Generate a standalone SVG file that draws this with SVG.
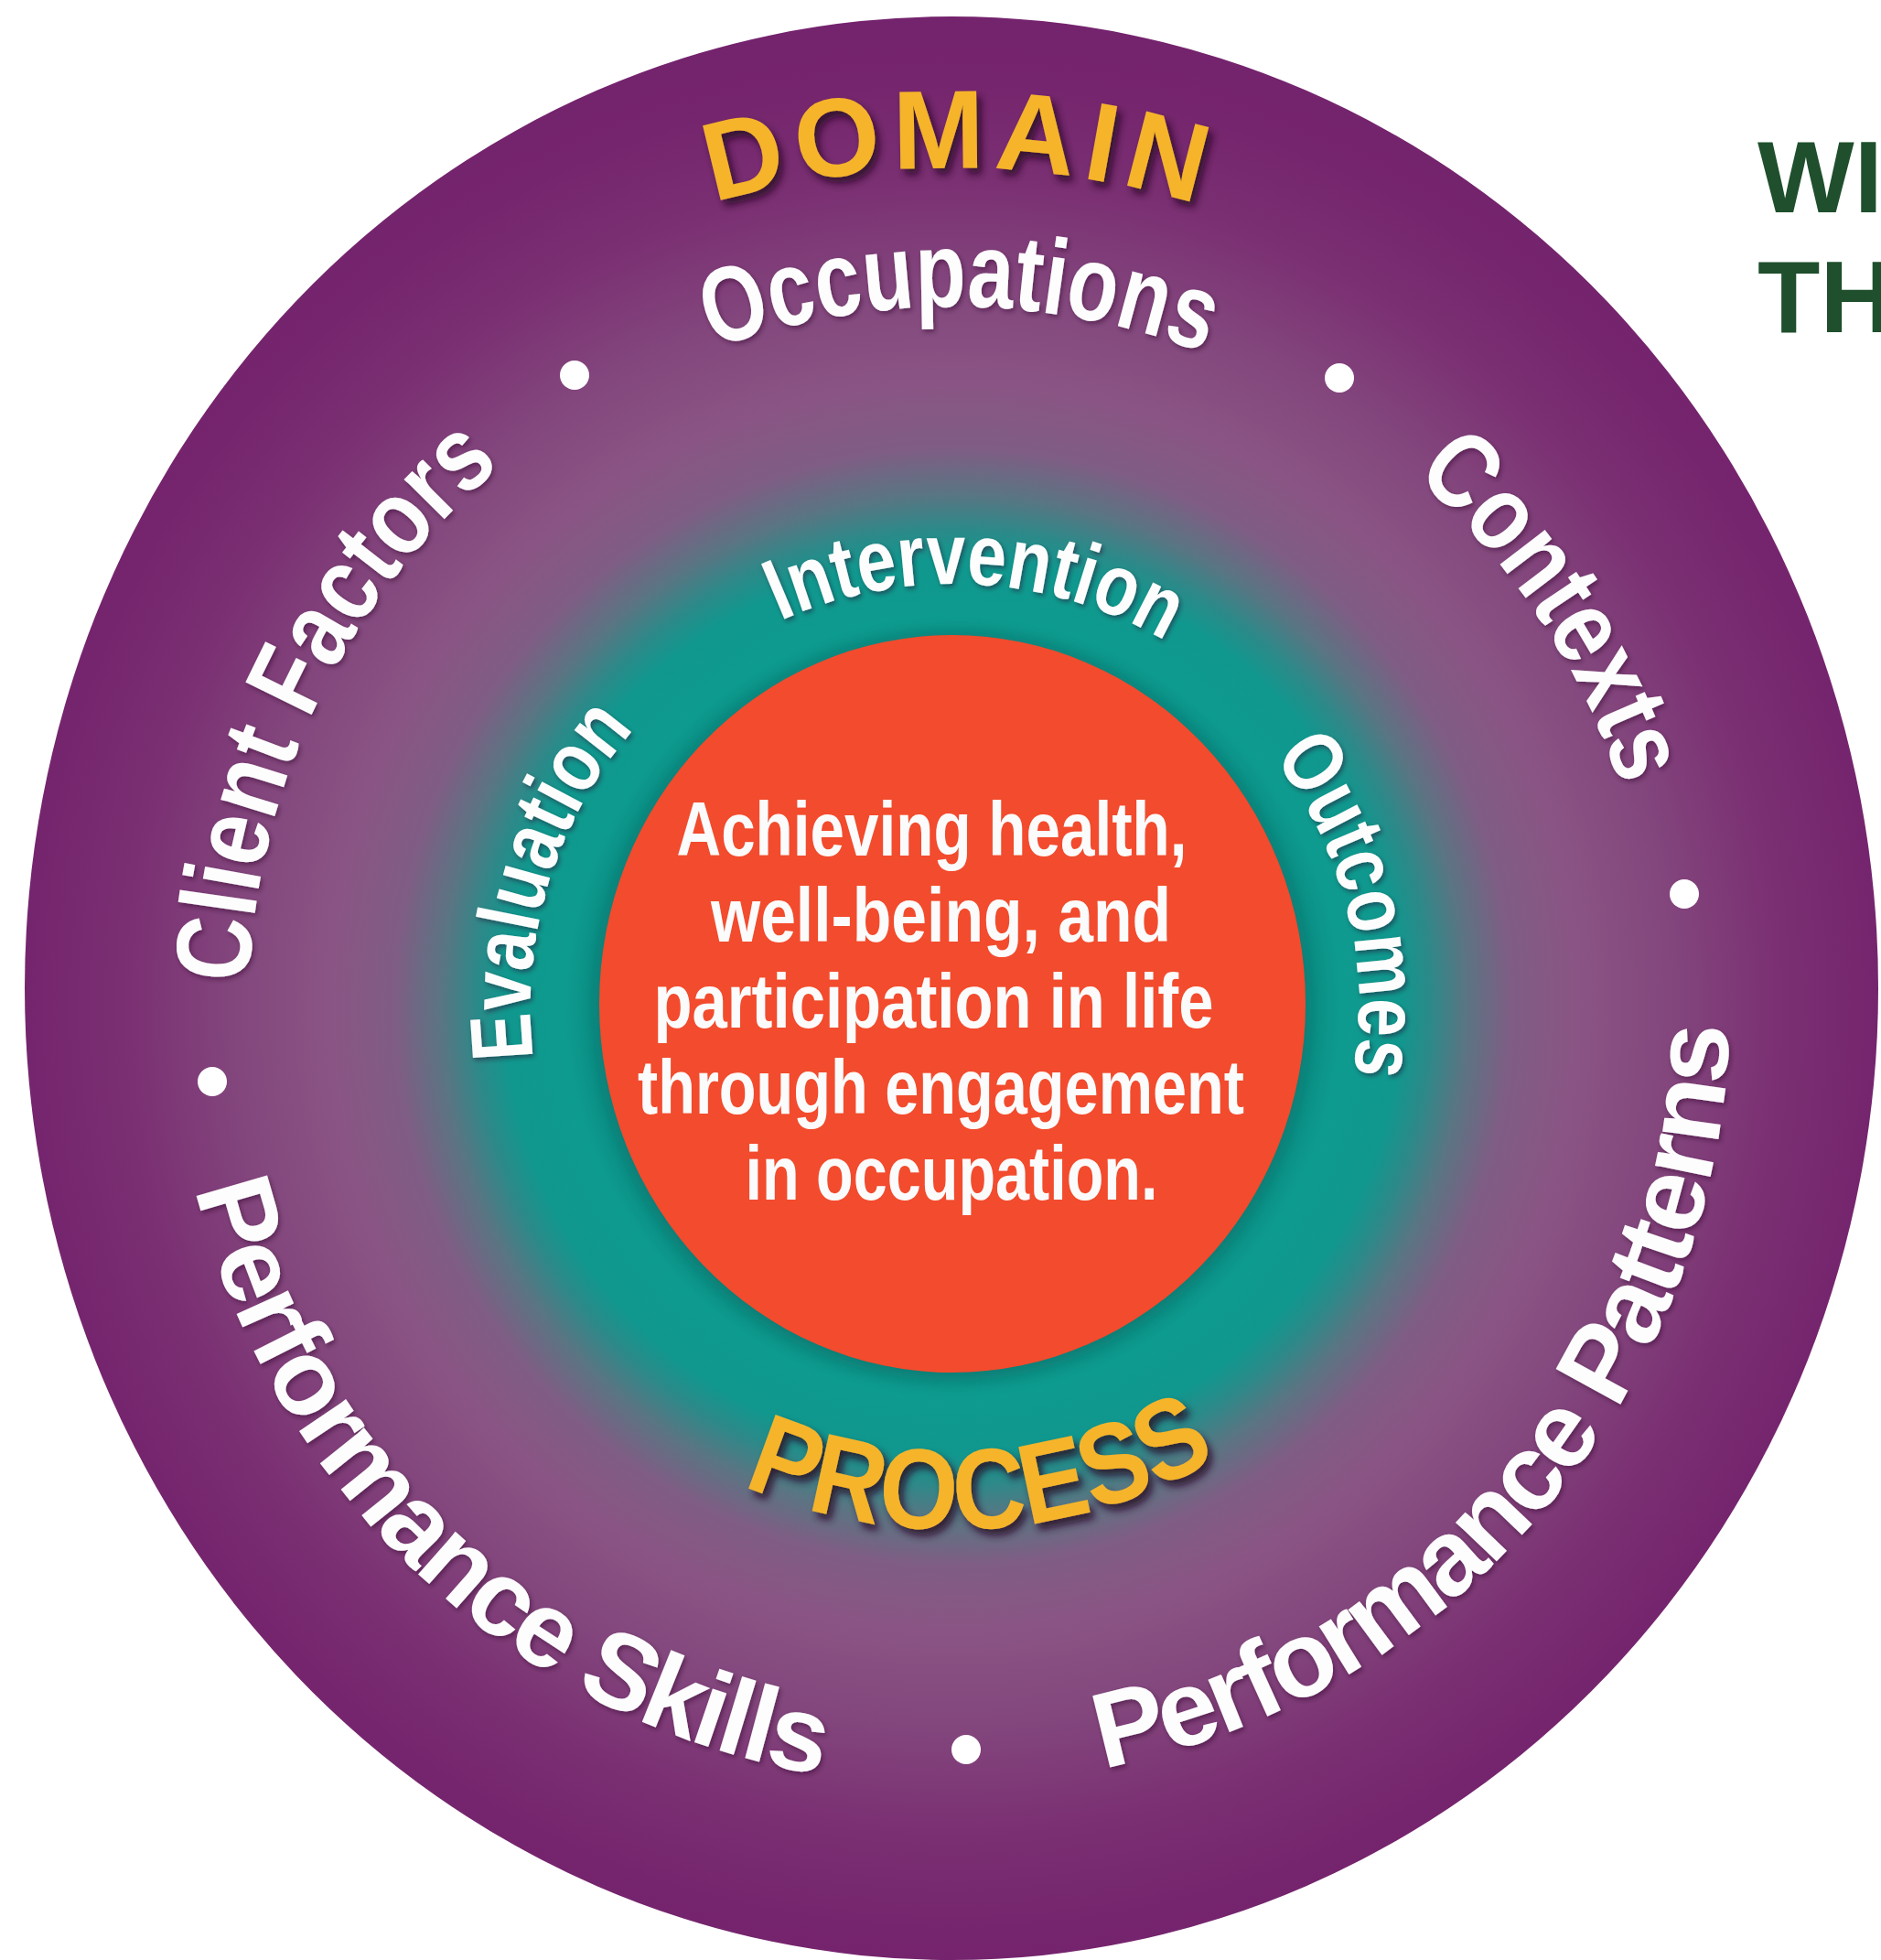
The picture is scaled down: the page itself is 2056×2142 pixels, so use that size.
<svg xmlns="http://www.w3.org/2000/svg" width="2056" height="2142" viewBox="0 0 2056 2142">
<defs>
<style>
.lbl{font-family:"Liberation Sans Narrow","Liberation Sans",Arial,sans-serif;font-weight:bold;fill:#fdfdfd;}
.outer{font-size:117px;}
.inner{font-size:95px;}
.gold{font-family:"Liberation Sans Narrow","Liberation Sans",Arial,sans-serif;font-weight:bold;fill:#f6b42a;}
.core{font-family:"Liberation Sans Narrow","Liberation Sans",Arial,sans-serif;font-weight:bold;font-size:83px;fill:#fbfbfb;text-anchor:middle;}
.dot{fill:#ffffff;}
.title{font-family:"Liberation Sans",Arial,sans-serif;font-weight:bold;font-size:112px;fill:#1f4f2d;}
</style>
<radialGradient id="bg" gradientUnits="userSpaceOnUse" cx="1042" cy="1100" r="1063">
<stop offset="0" stop-color="#0b988c"/>
<stop offset="0.37" stop-color="#0b8f85"/>
<stop offset="0.40" stop-color="#0e9b8f"/>
<stop offset="0.46" stop-color="#10978e"/>
<stop offset="0.49" stop-color="#2b8a89"/>
<stop offset="0.527" stop-color="#5a7583"/>
<stop offset="0.574" stop-color="#7f5d84"/>
<stop offset="0.64" stop-color="#8a5584"/>
<stop offset="0.734" stop-color="#83477d"/>
<stop offset="0.847" stop-color="#7b3073"/>
<stop offset="0.95" stop-color="#75256d"/>
<stop offset="1" stop-color="#74236d"/>
</radialGradient>
<filter id="gshadow" x="-20%" y="-40%" width="140%" height="180%">
<feGaussianBlur in="SourceAlpha" stdDeviation="4"/>
<feOffset dx="5" dy="7" result="b"/>
<feFlood flood-color="#2a0c26" flood-opacity="0.85"/>
<feComposite in2="b" operator="in"/>
<feMerge><feMergeNode/><feMergeNode in="SourceGraphic"/></feMerge>
</filter>
<filter id="wshadow" x="-20%" y="-40%" width="140%" height="180%">
<feGaussianBlur in="SourceAlpha" stdDeviation="2.5"/>
<feOffset dx="2" dy="3" result="b"/>
<feFlood flood-color="#2a0c26" flood-opacity="0.45"/>
<feComposite in2="b" operator="in"/>
<feMerge><feMergeNode/><feMergeNode in="SourceGraphic"/></feMerge>
</filter>
<filter id="soft" x="-10%" y="-10%" width="120%" height="120%">
<feGaussianBlur stdDeviation="8"/>
</filter>
<path id="p-domain" d="M130.1,1013.0 A916,916 0 0 1 1955.1,1027.3"/>
<path id="p-occ" d="M280.5,1026.7 A765,765 0 0 1 1804.6,1040.0"/>
<path id="p-ctx" d="M673.8,426.0 A768,768 0 0 1 1521.7,1699.8"/>
<path id="p-cf" d="M645.4,1760.0 A770,770 0 0 1 1317.9,381.1"/>
<path id="p-ps" d="M371.5,574.3 A852,852 0 0 0 1611.0,1734.2"/>
<path id="p-pp" d="M553.8,1793.4 A848,848 0 0 0 1643.2,501.9"/>
<path id="p-int" d="M584.5,1035.7 A462,462 0 0 1 1503.7,1083.9"/>
<path id="p-eval" d="M868.9,1528.4 A462,462 0 0 1 1138.1,648.1"/>
<path id="p-out" d="M971.2,662.7 A443,443 0 0 1 1187.7,1518.4"/>
<path id="p-proc" d="M476.0,1182.6 A572,572 0 0 0 1613.7,1117.0"/>
</defs>

<rect width="2056" height="2142" fill="#ffffff"/>

<g id="disc">
<ellipse cx="1040" cy="1080" rx="1013" ry="1062" fill="url(#bg)"/>
</g>

<g id="core">
<ellipse cx="1041" cy="1100" rx="392" ry="409" fill="#0a6e68" opacity="0.55" filter="url(#soft)"/>
<ellipse cx="1041" cy="1097" rx="386" ry="403" fill="#f24b2d"/>
<text class="core">
<tspan x="1030" y="935" textLength="558" lengthAdjust="spacingAndGlyphs">Achieving health,</tspan>
<tspan x="1040" y="1029" textLength="503" lengthAdjust="spacingAndGlyphs">well-being, and</tspan>
<tspan x="1032" y="1123" textLength="612" lengthAdjust="spacingAndGlyphs">participation in life</tspan>
<tspan x="1040" y="1217" textLength="663" lengthAdjust="spacingAndGlyphs">through engagement</tspan>
<tspan x="1040" y="1311" textLength="451" lengthAdjust="spacingAndGlyphs">in occupation.</tspan>
</text>
</g>

<g id="domain-title" filter="url(#gshadow)">
<text class="gold" font-size="122"><textPath href="#p-domain" startOffset="50%" text-anchor="middle" textLength="545" lengthAdjust="spacingAndGlyphs" letter-spacing="10">DOMAIN</textPath></text>
</g>

<g id="domain-labels" filter="url(#wshadow)">
<g id="occupations"><text class="lbl outer"><textPath href="#p-occ" startOffset="50%" text-anchor="middle" textLength="548" lengthAdjust="spacingAndGlyphs">Occupations</textPath></text></g>
<g id="contexts"><text class="lbl outer"><textPath href="#p-ctx" startOffset="50%" text-anchor="middle" textLength="414" lengthAdjust="spacingAndGlyphs">Contexts</textPath></text></g>
<g id="client-factors"><text class="lbl outer"><textPath href="#p-cf" startOffset="50%" text-anchor="middle" textLength="648" lengthAdjust="spacingAndGlyphs">Client Factors</textPath></text></g>
<g id="performance-skills"><text class="lbl outer"><textPath href="#p-ps" startOffset="50%" text-anchor="middle" textLength="993" lengthAdjust="spacing">Performance Skills</textPath></text></g>
<g id="performance-patterns"><text class="lbl outer"><textPath href="#p-pp" startOffset="50%" text-anchor="middle" textLength="1147" lengthAdjust="spacing">Performance Patterns</textPath></text></g>
</g>

<g id="bullets">
<circle class="dot" cx="628" cy="410" r="16"/>
<circle class="dot" cx="1464" cy="413" r="16"/>
<circle class="dot" cx="1841" cy="977" r="16"/>
<circle class="dot" cx="1056" cy="1912" r="16"/>
<circle class="dot" cx="232" cy="1182" r="16"/>
</g>

<g id="process-labels" filter="url(#wshadow)">
<g id="intervention"><text class="lbl inner"><textPath href="#p-int" startOffset="50%" text-anchor="middle" textLength="438" lengthAdjust="spacingAndGlyphs">Intervention</textPath></text></g>
<g id="evaluation"><text class="lbl inner"><textPath href="#p-eval" startOffset="50%" text-anchor="middle" textLength="388" lengthAdjust="spacingAndGlyphs">Evaluation</textPath></text></g>
<g id="outcomes"><text class="lbl inner"><textPath href="#p-out" startOffset="50%" text-anchor="middle" textLength="368" lengthAdjust="spacingAndGlyphs">Outcomes</textPath></text></g>
</g>

<g id="process-title" filter="url(#gshadow)">
<text class="gold" font-size="125"><textPath href="#p-proc" startOffset="50%" text-anchor="middle" textLength="540" lengthAdjust="spacingAndGlyphs">PROCESS</textPath></text>
</g>

<g id="heading">
<text class="title" x="1921" y="232">WI</text>
<text class="title" x="1921" y="363">TH</text>
</g>

<g id="connectors"/>
</svg>
